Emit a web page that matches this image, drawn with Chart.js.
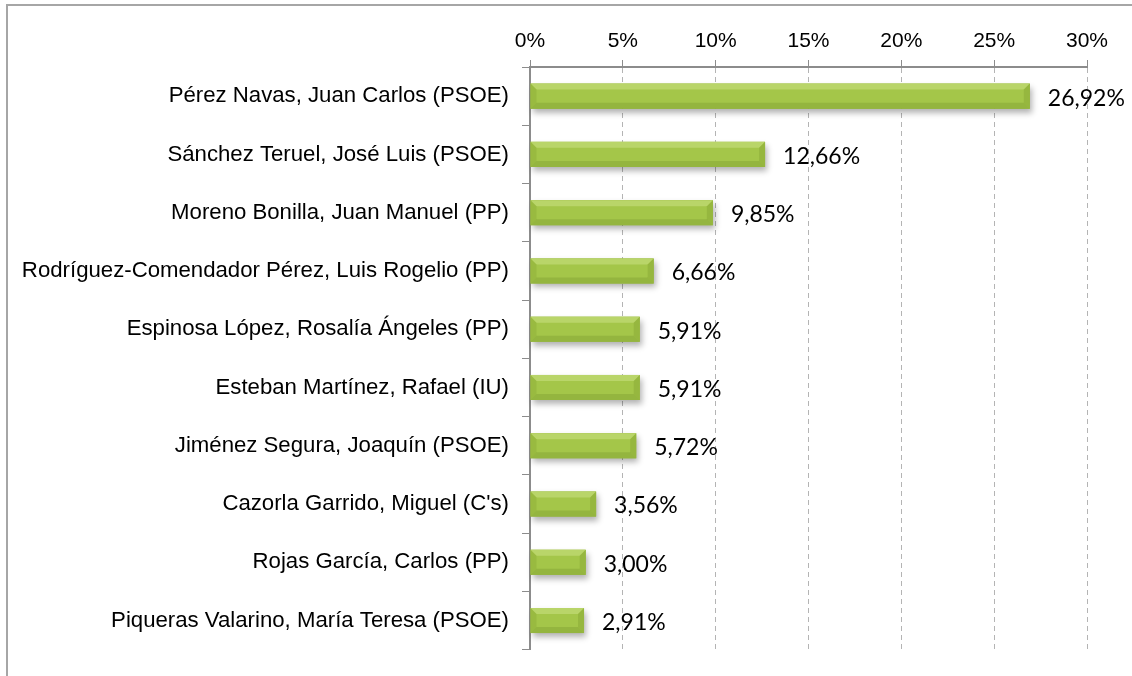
<!DOCTYPE html>
<html>
<head>
<meta charset="utf-8">
<script src="https://cdn.jsdelivr.net/npm/chart.js@4/dist/chart.umd.min.js"></script>
<style>
html,body{margin:0;padding:0;background:#fff;}
#wrap{width:1132px;height:676px;position:relative;}
</style>
</head>
<body>
<div id="wrap"><canvas id="c" width="1132" height="676"></canvas></div>
<script>
const categories = [
  "Pérez Navas, Juan Carlos (PSOE)",
  "Sánchez Teruel, José Luis (PSOE)",
  "Moreno Bonilla, Juan Manuel (PP)",
  "Rodríguez-Comendador Pérez, Luis Rogelio (PP)",
  "Espinosa López, Rosalía Ángeles (PP)",
  "Esteban Martínez, Rafael (IU)",
  "Jiménez Segura, Joaquín (PSOE)",
  "Cazorla Garrido, Miguel (C's)",
  "Rojas García, Carlos (PP)",
  "Piqueras Valarino, María Teresa (PSOE)"
];
const values = [26.92, 12.66, 9.85, 6.66, 5.91, 5.91, 5.72, 3.56, 3.00, 2.91];
const valueLabels = ["26,92%","12,66%","9,85%","6,66%","5,91%","5,91%","5,72%","3,56%","3,00%","2,91%"];
const axisMax = 30;
const axisStep = 5;

const labelFont = "'Liberation Sans', Arial, sans-serif";
const dataFont = "Lato, 'Open Sans', sans-serif";

function barGradient(ctx, top, bottom) {
  const g = ctx.createLinearGradient(0, top, 0, bottom);
  g.addColorStop(0, '#d6ec96');
  g.addColorStop(0.25, '#c3df76');
  g.addColorStop(0.5, '#abcb52');
  g.addColorStop(0.8, '#92b438');
  g.addColorStop(1, '#728f27');
  return g;
}

const framePlugin = {
  id: 'frame',
  beforeDraw(chart) {
    const ctx = chart.ctx;
    ctx.save();
    ctx.strokeStyle = '#a6a6a6';
    ctx.lineWidth = 2;
    ctx.strokeRect(7, 5, 1400, 1000);
    ctx.restore();
  }
};

const bevelPlugin = {
  id: 'bevel',
  beforeDatasetsDraw(chart) {
    const ctx = chart.ctx;
    const meta = chart.getDatasetMeta(0);
    ctx.save();
    meta.data.forEach(el => {
      const x0 = el.base, x1 = el.x;
      const h = el.height, top = el.y - h / 2;
      ctx.shadowColor = 'rgba(0,0,0,0.30)';
      ctx.shadowBlur = 6;
      ctx.shadowOffsetX = 2;
      ctx.shadowOffsetY = 4;
      ctx.fillStyle = '#8fb234';
      ctx.fillRect(x0, top, x1 - x0, h);
    });
    ctx.restore();
  },
  afterDatasetsDraw(chart) {
    const ctx = chart.ctx;
    const meta = chart.getDatasetMeta(0);
    ctx.save();
    meta.data.forEach(el => {
      const x0 = el.base, x1 = el.x;
      const h = el.height, top = el.y - h / 2, bot = top + h;
      const b = Math.min(6, (x1 - x0) / 3);
      ctx.fillStyle = 'rgba(225,242,165,0.35)';
      ctx.beginPath();
      ctx.moveTo(x0, top);
      ctx.lineTo(x1, top);
      ctx.lineTo(x1 - b, top + b);
      ctx.lineTo(x0 + b, top + b);
      ctx.closePath();
      ctx.fill();
      ctx.fillStyle = 'rgba(80,105,20,0.18)';
      ctx.beginPath();
      ctx.moveTo(x0, bot);
      ctx.lineTo(x1, bot);
      ctx.lineTo(x1 - b, bot - b);
      ctx.lineTo(x0 + b, bot - b);
      ctx.closePath();
      ctx.fill();
      ctx.fillStyle = 'rgba(125,155,45,0.35)';
      ctx.beginPath();
      ctx.moveTo(x1, top);
      ctx.lineTo(x1, bot);
      ctx.lineTo(x1 - b, bot - b);
      ctx.lineTo(x1 - b, top + b);
      ctx.closePath();
      ctx.fill();
      ctx.fillStyle = 'rgba(120,150,40,0.25)';
      ctx.beginPath();
      ctx.moveTo(x0, top);
      ctx.lineTo(x0, bot);
      ctx.lineTo(x0 + b, bot - b);
      ctx.lineTo(x0 + b, top + b);
      ctx.closePath();
      ctx.fill();
    });
    ctx.restore();
  },
  afterDraw(chart) {
    const ctx = chart.ctx;
    const meta = chart.getDatasetMeta(0);
    ctx.save();
    ctx.fillStyle = '#000';
    ctx.font = "23px " + dataFont;
    ctx.textAlign = 'left';
    ctx.textBaseline = 'middle';
    meta.data.forEach((el, i) => {
      ctx.fillText(valueLabels[i], el.x + 18, el.y + 2);
    });
    ctx.restore();
  }
};

new Chart(document.getElementById('c'), {
  type: 'bar',
  data: {
    labels: categories,
    datasets: [{
      data: values,
      backgroundColor: (c) => {
        const el = c.element;
        if (!el || el.height === undefined) return '#a4c649';
        const top = el.y - el.height / 2;
        return barGradient(c.chart.ctx, top, top + el.height);
      },
      borderWidth: 0,
      barPercentage: 0.43,
      categoryPercentage: 1.0
    }]
  },
  options: {
    indexAxis: 'y',
    responsive: false,
    animation: false,
    layout: { padding: { left: 0, right: 45, top: 0, bottom: 24 } },
    plugins: { legend: { display: false }, tooltip: { enabled: false } },
    scales: {
      x: {
        position: 'top',
        min: 0,
        max: axisMax,
        afterFit(s) { s.height = 67; },
        ticks: {
          stepSize: axisStep,
          callback: v => v + '%',
          color: '#000',
          font: { family: labelFont, size: 21 },
          padding: 6
        },
        grid: {
          color: '#b4b4b4',
          lineWidth: 1,
          drawTicks: true,
          tickLength: 7,
          tickColor: '#8c8c8c',
          tickBorderDash: []
        },
        border: { display: true, color: '#8c8c8c', width: 2, dash: [5, 4] }
      },
      y: {
        afterFit(s) { s.width = 530; },
        ticks: {
          color: '#000',
          font: { family: labelFont, size: 22.2 },
          padding: 13
        },
        grid: {
          drawOnChartArea: false,
          drawTicks: true,
          tickLength: 8,
          tickColor: '#8c8c8c',
          offset: true
        },
        border: { display: true, color: '#8c8c8c', width: 2 }
      }
    }
  },
  plugins: [framePlugin, bevelPlugin]
});
</script>
</body>
</html>
